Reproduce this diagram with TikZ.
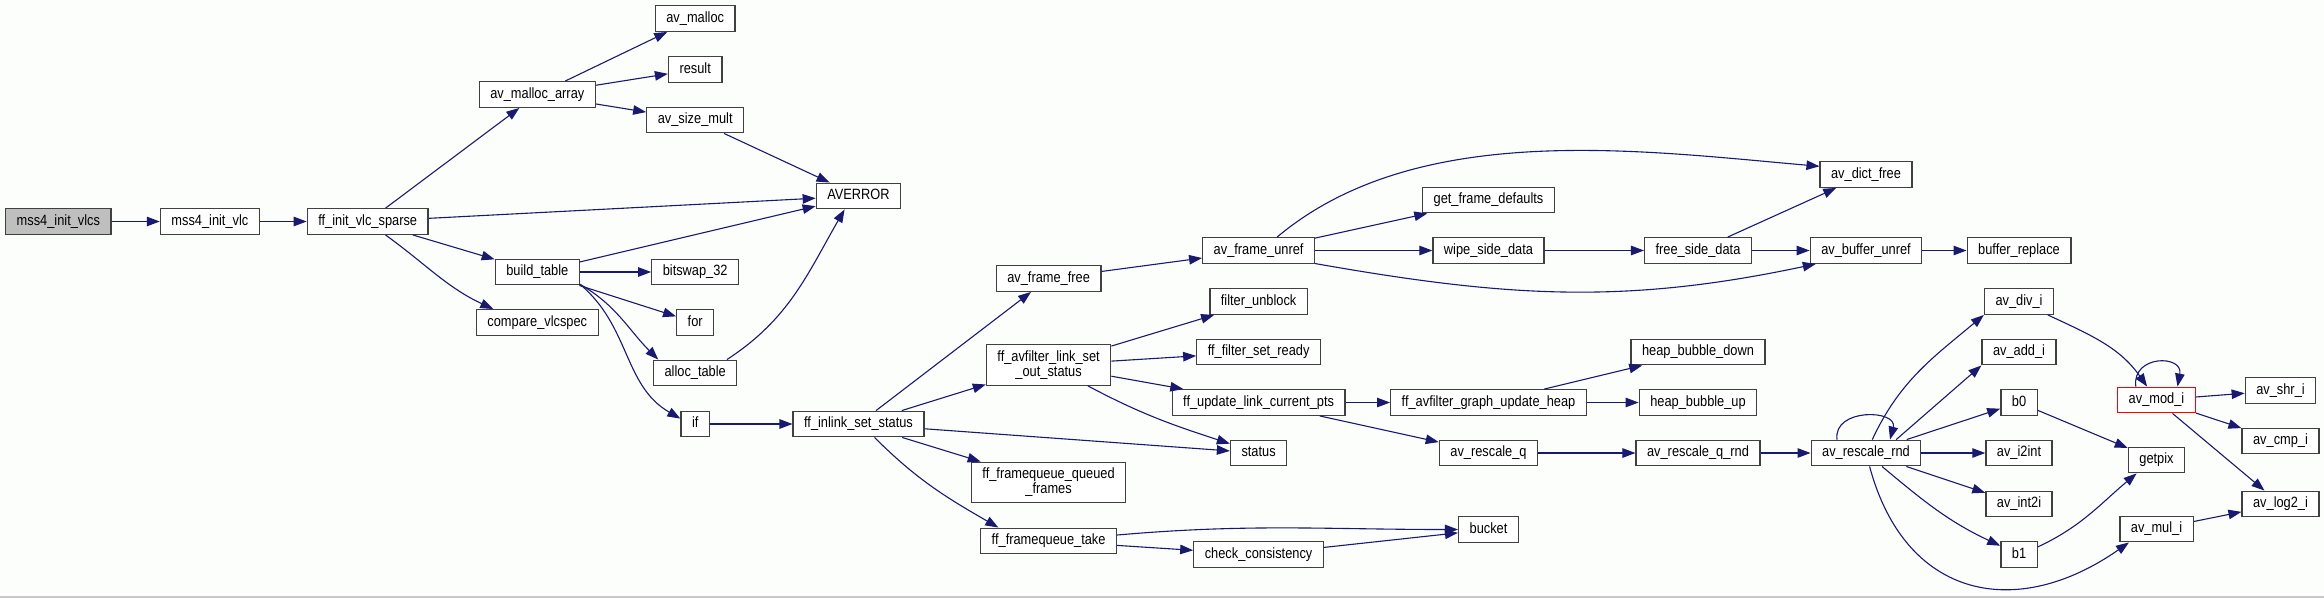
\documentclass[tikz,border=0pt]{standalone}
\usepackage{fontspec}
\setsansfont{Liberation Sans}[FakeStretch=0.86]
\usepackage{tikz}
\usetikzlibrary{arrows.meta,positioning}
\definecolor{edgeblue}{RGB}{25,25,112}
\definecolor{boxline}{RGB}{64,64,64}
\definecolor{rootfill}{RGB}{191,191,191}
\definecolor{paper}{RGB}{252,254,252}
\definecolor{frameline}{RGB}{200,200,200}
\tikzset{
  fnbase/.style={rectangle, draw=boxline, line width=1.3pt, fill=white, align=center,
                 font=\sffamily\fontsize{14.9}{15}\selectfont,
                 inner xsep=11pt, inner ysep=3pt, minimum height=25.6pt},
  fnbox/.style={fnbase, text height=10.6pt, text depth=3pt},
  fnboxroot/.style={fnbox, fill=rootfill},
  fnboxred/.style={fnbox, draw=red},
  fnboxtall/.style={fnbase, minimum height=40.5pt},
  arr/.style={-{Triangle[length=13pt,width=9.5pt]}, line width=1.1pt, color=edgeblue},
}

\begin{document}
\begin{tikzpicture}[x=1pt, y=1pt]
  \useasboundingbox (0,0) rectangle (2324,-598);
  \fill[paper] (0,0) rectangle (2324,-598);
  \draw[frameline, line width=1.5pt] (0,-597) -- (2324,-597);

  \node[fnboxroot] (mssvlcs) at (58.4,-221.5) {mss4\_init\_vlcs};
  \node[fnbox] (mssvlc) at (209.9,-221.5) {mss4\_init\_vlc};
  \node[fnbox] (initsparse) at (367.7,-221.5) {ff\_init\_vlc\_sparse};
  \node[fnbox] (mallocarray) at (537.3,-94.5) {av\_malloc\_array};
  \node[fnbox] (buildtable) at (537.3,-272) {build\_table};
  \node[fnbox] (comparespec) at (537.3,-322.5) {compare\_vlcspec};
  \node[fnbox] (malloc) at (695.2,-18.5) {av\_malloc};
  \node[fnbox] (result) at (695.2,-69.5) {result};
  \node[fnbox] (sizemult) at (695.2,-120) {av\_size\_mult};
  \node[fnbox] (bitswap) at (695.2,-272) {bitswap\_32};
  \node[fnbox] (fornode) at (695.2,-322.5) {for};
  \node[fnbox] (alloctable) at (695.2,-373) {alloc\_table};
  \node[fnbox] (ifnode) at (695.2,-424) {if};
  \node[fnbox] (averror) at (858.5,-196) {AVERROR};
  \node[fnbox] (inlinkstatus) at (858.5,-424) {ff\_inlink\_set\_status};
  \node[fnbox] (framefree) at (1048.6,-278.5) {av\_frame\_free};
  \node[fnboxtall] (setoutstatus) at (1048.6,-365) {ff\_avfilter\_link\_set\\\_out\_status};
  \node[fnboxtall] (queuedframes) at (1048.6,-482.5) {ff\_framequeue\_queued\\\_frames};
  \node[fnbox] (fqtake) at (1048.6,-541) {ff\_framequeue\_take};
  \node[fnbox] (frameunref) at (1258.6,-250.5) {av\_frame\_unref};
  \node[fnbox] (filterunblock) at (1258.6,-301.5) {filter\_unblock};
  \node[fnbox] (setready) at (1258.6,-352) {ff\_filter\_set\_ready};
  \node[fnbox] (updatepts) at (1258.6,-402.5) {ff\_update\_link\_current\_pts};
  \node[fnbox] (statusnode) at (1258.6,-453) {status};
  \node[fnbox] (checkcons) at (1258.6,-554.5) {check\_consistency};
  \node[fnbox] (getdefaults) at (1488.5,-200) {get\_frame\_defaults};
  \node[fnbox] (wipeside) at (1488.5,-250.5) {wipe\_side\_data};
  \node[fnbox] (updateheap) at (1488.5,-402.5) {ff\_avfilter\_graph\_update\_heap};
  \node[fnbox] (rescaleq) at (1488.5,-453) {av\_rescale\_q};
  \node[fnbox] (bucket) at (1488.5,-529.5) {bucket};
  \node[fnbox] (freeside) at (1698,-250.5) {free\_side\_data};
  \node[fnbox] (bubbledown) at (1698,-352) {heap\_bubble\_down};
  \node[fnbox] (bubbleup) at (1698,-402.5) {heap\_bubble\_up};
  \node[fnbox] (rescaleqrnd) at (1698,-453) {av\_rescale\_q\_rnd};
  \node[fnbox] (dictfree) at (1866,-174.5) {av\_dict\_free};
  \node[fnbox] (bufferunref) at (1866,-250.5) {av\_buffer\_unref};
  \node[fnbox] (rescalernd) at (1866,-453) {av\_rescale\_rnd};
  \node[fnbox] (bufreplace) at (2019,-250.5) {buffer\_replace};
  \node[fnbox] (divi) at (2019,-301.5) {av\_div\_i};
  \node[fnbox] (addi) at (2019,-352) {av\_add\_i};
  \node[fnbox] (bzero) at (2019,-402.5) {b0};
  \node[fnbox] (itoint) at (2019,-453) {av\_i2int};
  \node[fnbox] (inttoi) at (2019,-504) {av\_int2i};
  \node[fnbox] (bone) at (2019,-554.5) {b1};
  \node[fnboxred] (modi) at (2156.5,-400) {av\_mod\_i};
  \node[fnbox] (getpix) at (2156.5,-460) {getpix};
  \node[fnbox] (muli) at (2156.5,-529) {av\_mul\_i};
  \node[fnbox] (shri) at (2280.5,-390.5) {av\_shr\_i};
  \node[fnbox] (cmpi) at (2280.5,-441) {av\_cmp\_i};
  \node[fnbox] (logtwoi) at (2280.5,-504) {av\_log2\_i};

  \draw[arr] (mssvlcs) -- (mssvlc);
  \draw[arr] (mssvlc) -- (initsparse);
  \draw[arr] (initsparse) -- (mallocarray);
  \draw[arr] (initsparse) -- (averror);
  \draw[arr] (initsparse) -- (buildtable);
  \draw[arr] (initsparse.-37) to[out=-36,in=155] (comparespec.163);
  \draw[arr] (mallocarray) -- (malloc);
  \draw[arr] (mallocarray) -- (result);
  \draw[arr] (mallocarray) -- (sizemult);
  \draw[arr] (sizemult) -- (averror);
  \draw[arr] (buildtable) -- (averror);
  \draw[arr] (buildtable) -- (bitswap);
  \draw[arr] (buildtable) -- (fornode);
  \draw[arr] (buildtable.-16) to[out=-30,in=135] (alloctable.160);
  \draw[arr] (buildtable.-16) to[out=-40,in=150] (ifnode.160);
  \draw[arr] (alloctable.23) to[out=33,in=-120] (averror.-136);
  \draw[arr] (ifnode) -- (inlinkstatus);
  \draw[arr] (inlinkstatus) -- (framefree);
  \draw[arr] (inlinkstatus) -- (setoutstatus);
  \draw[arr] (inlinkstatus) -- (statusnode);
  \draw[arr] (inlinkstatus) -- (queuedframes);
  \draw[arr] (inlinkstatus.-40) to[out=-45,in=150] (fqtake.165);
  \draw[arr] (framefree) -- (frameunref);
  \draw[arr] (frameunref.36) to[out=40,in=175,looseness=0.85] (dictfree.170);
  \draw[arr] (frameunref) -- (getdefaults);
  \draw[arr] (frameunref) -- (wipeside);
  \draw[arr] (frameunref.-13) to[out=-10,in=-168] (bufferunref.-165);
  \draw[arr] (wipeside) -- (freeside);
  \draw[arr] (freeside) -- (dictfree);
  \draw[arr] (freeside) -- (bufferunref);
  \draw[arr] (bufferunref) -- (bufreplace);
  \draw[arr] (setoutstatus) -- (filterunblock);
  \draw[arr] (setoutstatus) -- (setready);
  \draw[arr] (setoutstatus) -- (updatepts);
  \draw[arr] (setoutstatus) to[out=-28,in=162] (statusnode);
  \draw[arr] (updatepts) -- (updateheap);
  \draw[arr] (updatepts) -- (rescaleq);
  \draw[arr] (updateheap) -- (bubbledown);
  \draw[arr] (updateheap) -- (bubbleup);
  \draw[arr] (rescaleq) -- (rescaleqrnd);
  \draw[arr] (rescaleqrnd) -- (rescalernd);
  \draw[arr] ([xshift=-29pt]rescalernd.north) .. controls +(-4,32) and +(8,30) .. ([xshift=24pt]rescalernd.north);
  \draw[arr] (rescalernd) to[out=65,in=-140] (divi.south west);
  \draw[arr] (rescalernd.24) -- (addi.south west);
  \draw[arr] (rescalernd) -- (bzero);
  \draw[arr] (rescalernd) -- (itoint);
  \draw[arr] (rescalernd) -- (inttoi);
  \draw[arr] (rescalernd) to[out=-40,in=155] (bone);
  \draw[arr] (rescalernd) to[out=-75,in=-145,looseness=1.3] (muli.-154);
  \draw[arr] (divi) to[out=-25,in=125] (modi);
  \draw[arr] ([xshift=-20.7pt]modi.north) .. controls +(-4,32) and +(6,32) .. ([xshift=21pt]modi.north);
  \draw[arr] (modi) -- (shri);
  \draw[arr] (modi) -- (cmpi);
  \draw[arr] (modi) -- (logtwoi);
  \draw[arr] (bzero) -- (getpix);
  \draw[arr] (bone.22) to[out=25,in=-140] (getpix.-146);
  \draw[arr] (muli) -- (logtwoi);
  \draw[arr] (fqtake) to[out=5,in=180] (bucket);
  \draw[arr] (fqtake) -- (checkcons);
  \draw[arr] (checkcons) -- (bucket);
\end{tikzpicture}
\end{document}
